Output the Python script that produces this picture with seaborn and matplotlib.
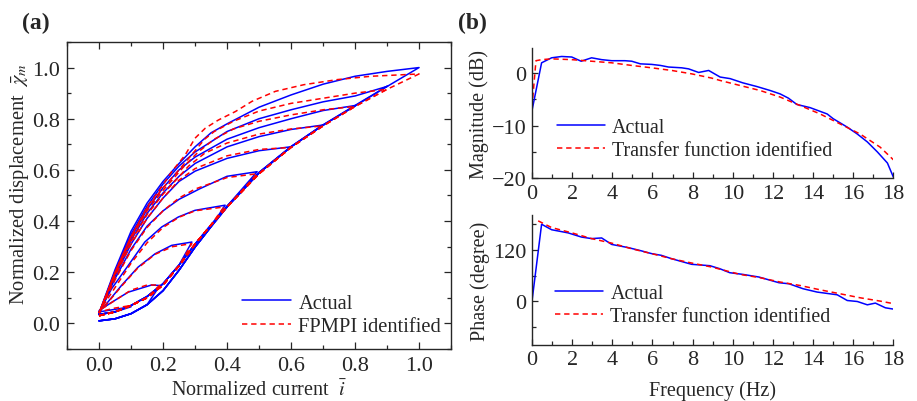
import numpy as np
import pandas as pd
import matplotlib
matplotlib.use("Agg")
import matplotlib.pyplot as plt
from matplotlib.ticker import MultipleLocator, FormatStrFormatter
from matplotlib.lines import Line2D
import seaborn as sns

sns.set_style("ticks")
plt.rcParams["font.family"] = ["Liberation Serif", "DejaVu Serif"]
plt.rcParams["mathtext.fontset"] = "stix"
plt.rcParams["font.size"] = 14

# ---------------- (a) hysteresis loops ----------------
# shared rising branch (x grid) for the measured loops
rise_x = [0.0, 0.05, 0.10, 0.15, 0.20, 0.25, 0.30, 0.35, 0.40, 0.50, 0.60, 0.70, 0.80, 0.90, 1.00]
rise_low = [0.010, 0.018, 0.038, 0.073, 0.128, 0.208, 0.298, 0.378, 0.455, 0.588, 0.690, 0.775, 0.850, 0.926, 1.000]
rise_high = [0.035, 0.045, 0.070, 0.105, 0.155, 0.228, 0.310, 0.385, 0.458, 0.590, 0.691, 0.776, 0.852, 0.927, 1.000]
# rising branch of the identified model
rise_fit = [0.030, 0.045, 0.070, 0.100, 0.150, 0.225, 0.310, 0.385, 0.455, 0.585, 0.688, 0.772, 0.848, 0.915, 0.975]

# falling branches (measured), each starting at its turning point
fall_10_x = [1.0, 0.9, 0.8, 0.7, 0.6, 0.5, 0.4, 0.35, 0.3, 0.25, 0.2, 0.15, 0.1, 0.05, 0.0]
fall_10_y = [1.0, 0.985, 0.966, 0.935, 0.893, 0.845, 0.78, 0.745, 0.69, 0.625, 0.555, 0.47, 0.36, 0.21, 0.04]
fall_09_x = [0.902, 0.8, 0.7, 0.6, 0.5, 0.4, 0.3, 0.25, 0.2, 0.15, 0.1, 0.05, 0.0]
fall_09_y = [0.927, 0.889, 0.866, 0.835, 0.80, 0.75, 0.67, 0.615, 0.545, 0.458, 0.348, 0.203, 0.04]
fall_08_x = [0.802, 0.7, 0.6, 0.5, 0.4, 0.3, 0.25, 0.2, 0.15, 0.1, 0.05, 0.0]
fall_08_y = [0.852, 0.832, 0.80, 0.765, 0.72, 0.65, 0.60, 0.53, 0.445, 0.335, 0.195, 0.04]
fall_07_x = [0.703, 0.6, 0.5, 0.4, 0.3, 0.25, 0.2, 0.15, 0.1, 0.05, 0.0]
fall_07_y = [0.776, 0.758, 0.73, 0.69, 0.625, 0.575, 0.51, 0.43, 0.325, 0.19, 0.04]
fall_06_x = [0.604, 0.5, 0.4, 0.3, 0.25, 0.2, 0.15, 0.1, 0.05, 0.0]
fall_06_y = [0.691, 0.675, 0.645, 0.595, 0.555, 0.49, 0.41, 0.31, 0.185, 0.04]
fall_05_x = [0.494, 0.4, 0.316, 0.25, 0.2, 0.15, 0.1, 0.05, 0.0]
fall_05_y = [0.593, 0.575, 0.527, 0.485, 0.44, 0.38, 0.29, 0.175, 0.04]
fall_04_x = [0.394, 0.3, 0.248, 0.196, 0.143, 0.091, 0.039, 0.0]
fall_04_y = [0.462, 0.442, 0.416, 0.377, 0.318, 0.226, 0.135, 0.043]
fall_03_x = [0.29, 0.227, 0.175, 0.122, 0.07, 0.018, 0.0]
fall_03_y = [0.318, 0.305, 0.272, 0.22, 0.148, 0.069, 0.045]
fall_02_x = [0.19, 0.164, 0.091, 0.039, 0.0]
fall_02_y = [0.148, 0.15, 0.122, 0.082, 0.05]
fall_01_x = [0.10, 0.05, 0.0]
fall_01_y = [0.065, 0.055, 0.045]

# falling branches (identified model)
fit_10_x = [1.0, 0.85, 0.745, 0.64, 0.551, 0.478, 0.426, 0.373, 0.332, 0.30, 0.269, 0.227, 0.185, 0.154, 0.10, 0.05, 0.0]
fit_10_y = [0.975, 0.966, 0.953, 0.933, 0.907, 0.868, 0.828, 0.795, 0.763, 0.724, 0.658, 0.593, 0.514, 0.462, 0.34, 0.20, 0.04]
fit_09_x = [0.9, 0.8, 0.7, 0.6, 0.5, 0.42, 0.36, 0.33, 0.29, 0.25, 0.2, 0.15, 0.1, 0.05, 0.0]
fit_09_y = [0.915, 0.90, 0.88, 0.86, 0.83, 0.79, 0.75, 0.72, 0.66, 0.60, 0.53, 0.45, 0.34, 0.20, 0.04]
fit_08_x = [0.8, 0.7, 0.6, 0.5, 0.42, 0.36, 0.31, 0.27, 0.2, 0.15, 0.1, 0.05, 0.0]
fit_08_y = [0.848, 0.835, 0.815, 0.79, 0.76, 0.72, 0.67, 0.62, 0.52, 0.44, 0.33, 0.195, 0.04]
fit_07_x = [0.7, 0.6, 0.5, 0.4, 0.33, 0.28, 0.2, 0.15, 0.1, 0.05, 0.0]
fit_07_y = [0.772, 0.76, 0.74, 0.705, 0.665, 0.615, 0.505, 0.425, 0.32, 0.19, 0.04]
fit_06_x = [0.6, 0.5, 0.4, 0.3, 0.25, 0.2, 0.15, 0.1, 0.05, 0.0]
fit_06_y = [0.688, 0.68, 0.655, 0.605, 0.56, 0.49, 0.41, 0.31, 0.185, 0.04]
fit_05_x = [0.494, 0.4, 0.3, 0.25, 0.2, 0.15, 0.1, 0.05, 0.0]
fit_05_y = [0.585, 0.57, 0.525, 0.49, 0.44, 0.375, 0.285, 0.17, 0.04]
fit_04_x = [0.39, 0.3, 0.25, 0.2, 0.15, 0.1, 0.05, 0.0]
fit_04_y = [0.455, 0.44, 0.415, 0.375, 0.315, 0.235, 0.14, 0.045]
fit_03_x = [0.29, 0.23, 0.175, 0.12, 0.07, 0.02, 0.0]
fit_03_y = [0.312, 0.30, 0.27, 0.215, 0.145, 0.07, 0.045]
fit_02_x = [0.19, 0.15, 0.1, 0.05, 0.0]
fit_02_y = [0.15, 0.15, 0.13, 0.09, 0.05]
fit_01_x = [0.10, 0.05, 0.0]
fit_01_y = [0.07, 0.06, 0.045]

# ---------------- (b) frequency response ----------------
mag_f = [0, 0.48, 0.98, 1.48, 1.98, 2.45, 2.97, 3.47, 3.97, 4.63, 4.97, 5.4, 5.96, 6.4, 6.8, 7.46, 7.8,
         8.3, 8.8, 9.37, 9.87, 10.5, 11.2, 11.86, 12.36, 12.77, 13.19, 13.85, 14.7, 15.0, 15.7, 16.2,
         16.7, 17.2, 17.7, 18.0]
mag_db = [-7.2, 1.9, 2.85, 3.1, 3.0, 2.2, 2.85, 2.5, 2.3, 2.3, 2.2, 1.7, 1.6, 1.4, 1.1, 0.95, 0.75,
          0.07, 0.45, -0.8, -1.1, -1.9, -2.6, -3.35, -4.0, -4.8, -6.0, -6.6, -7.8, -8.7, -10.3, -11.6,
          -13.1, -15.0, -17.1, -19.8]
mag_fit_f = [0, 0.2, 0.48, 0.98, 1.98, 2.97, 3.97, 4.97, 5.96, 6.96, 7.96, 8.95, 9.37, 10.36, 11.36,
             12.36, 13.35, 14.35, 15.35, 16.34, 17.34, 18.0]
mag_fit_db = [-6.5, 2.3, 2.5, 2.65, 2.5, 2.2, 1.9, 1.4, 0.95, 0.45, -0.2, -1.0, -1.45, -2.4, -3.35,
              -4.6, -6.2, -7.8, -9.7, -11.6, -14.1, -16.5]

ph_f = [0, 0.48, 0.98, 1.8, 2.47, 2.97, 3.47, 3.97, 4.8, 5.46, 5.96, 6.45, 6.95, 7.95, 8.86, 9.35,
        9.85, 10.5, 11.3, 12.3, 12.8, 13.5, 14.2, 15.2, 15.7, 16.2, 16.7, 17.1, 17.6, 18.0]
ph_deg = [0, 178.7, 166, 158.7, 149, 145.5, 147, 132, 124.6, 117, 110.7, 106.7, 99, 86, 82.8, 75.9,
          66.6, 62.7, 56.6, 43.4, 41, 29.5, 21.8, 15.5, 2.3, 0, -7.7, -3.7, -14.6, -17.6]
ph_fit_f = [0.31, 0.98, 1.97, 2.97, 3.97, 4.96, 5.96, 6.95, 7.95, 8.94, 10.36, 11.36, 12.36, 13.35,
            14.35, 15.35, 16.34, 17.34, 18.0]
ph_fit_deg = [186.5, 171, 159, 145.5, 135, 122, 110.7, 99, 89, 79.8, 62.7, 55, 45, 37, 27, 17.8,
              8.6, 0.9, -5]

BLUE = "#0000ff"
RED = "#ff0000"
DASH = (0, (3.5, 2.5))
LBL_ACT = "Actual"
LBL_FIT = "FPMPI identified"
LBL_TF = "Transfer function identified"
TICK_FS = 16
LABEL_FS = 14.5


def loop_frame(rise_y, fx, fy, kind, uid):
    """Rising part up to the turning point, followed by the falling branch."""
    px = fx[0]
    xs = [x for x in rise_x if x < px - 1e-9] + list(fx)
    ys = [y for x, y in zip(rise_x, rise_y) if x < px - 1e-9] + list(fy)
    return pd.DataFrame({"x": xs, "y": ys, "kind": kind, "loop": uid, "step": range(len(xs))})


measured = [(fall_01_x, fall_01_y), (fall_02_x, fall_02_y), (fall_03_x, fall_03_y),
            (fall_04_x, fall_04_y), (fall_05_x, fall_05_y), (fall_06_x, fall_06_y),
            (fall_07_x, fall_07_y), (fall_08_x, fall_08_y), (fall_09_x, fall_09_y),
            (fall_10_x, fall_10_y)]
fitted = [(fit_01_x, fit_01_y), (fit_02_x, fit_02_y), (fit_03_x, fit_03_y), (fit_04_x, fit_04_y),
          (fit_05_x, fit_05_y), (fit_06_x, fit_06_y), (fit_07_x, fit_07_y), (fit_08_x, fit_08_y),
          (fit_09_x, fit_09_y), (fit_10_x, fit_10_y)]

frames = []
for i, (fx, fy) in enumerate(measured):
    frames.append(loop_frame(rise_high if i % 2 == 0 else rise_low, fx, fy, LBL_ACT, f"a{i}"))
for i, (fx, fy) in enumerate(fitted):
    frames.append(loop_frame(rise_fit, fx, fy, LBL_FIT, f"f{i}"))
loops = pd.concat(frames, ignore_index=True)

fig = plt.figure(figsize=(9.17, 4.02), dpi=100)
ax_a = fig.add_axes([0.0731, 0.1294, 0.4188, 0.7637])
ax_m = fig.add_axes([0.5801, 0.554, 0.3942, 0.324])
ax_p = fig.add_axes([0.5801, 0.140, 0.3942, 0.3226])

sns.lineplot(data=loops, x="x", y="y", hue="kind", style="kind", units="loop",
             estimator=None, sort=False, palette={LBL_ACT: BLUE, LBL_FIT: RED},
             dashes={LBL_ACT: "", LBL_FIT: (3.5, 2.5)}, linewidth=1.1, legend=False, ax=ax_a)

ax_a.set_xlim(-0.1, 1.1)
ax_a.set_ylim(-0.1, 1.1)
ax_a.xaxis.set_major_locator(MultipleLocator(0.2))
ax_a.xaxis.set_minor_locator(MultipleLocator(0.1))
ax_a.yaxis.set_major_locator(MultipleLocator(0.2))
ax_a.yaxis.set_minor_locator(MultipleLocator(0.1))
ax_a.xaxis.set_major_formatter(FormatStrFormatter("%.1f"))
ax_a.yaxis.set_major_formatter(FormatStrFormatter("%.1f"))
ax_a.tick_params(which="both", direction="in", top=True, right=True, labelsize=TICK_FS, pad=5)
ax_a.tick_params(which="major", length=5, width=0.9)
ax_a.tick_params(which="minor", length=3, width=0.9)
for s in ax_a.spines.values():
    s.set_linewidth(1.0)
ax_a.set_xlabel(r"Normalized current  $\bar{i}$", fontsize=LABEL_FS, labelpad=3.5)
ax_a.set_ylabel(r"Normalized displacement  $\bar{\chi}_m$", fontsize=14.8)
ax_a.yaxis.set_label_coords(-0.094, 0.54)

h_act = Line2D([], [], color=BLUE, lw=1.1)
h_fit = Line2D([], [], color=RED, lw=1.1, ls=DASH)
ax_a.legend([h_act, h_fit], [LBL_ACT, LBL_FIT], loc="center left", bbox_to_anchor=(0.455, 0.112),
            frameon=False, fontsize=14.8, handlelength=2.4, handletextpad=0.35, labelspacing=0.2,
            borderpad=0, borderaxespad=0)

# magnitude
sns.lineplot(x=mag_f, y=mag_db, color=BLUE, linewidth=1.1, sort=False, estimator=None, ax=ax_m)
sns.lineplot(x=mag_fit_f, y=mag_fit_db, color=RED, linewidth=1.1, sort=False, estimator=None,
             ax=ax_m, dashes=False, linestyle=DASH)
ax_m.set_xlim(0, 18)
ax_m.set_ylim(-20, 4.7)
ax_m.yaxis.set_major_locator(MultipleLocator(10))
ax_m.yaxis.set_minor_locator(MultipleLocator(5))
ax_m.set_ylabel("Magnitude (dB)", fontsize=LABEL_FS, labelpad=2)
ax_m.legend([h_act, h_fit], [LBL_ACT, LBL_TF],
            loc="center left", bbox_to_anchor=(0.07, 0.30), frameon=False, fontsize=14.4,
            handlelength=2.4, handletextpad=0.35, labelspacing=0.2, borderpad=0, borderaxespad=0)

# phase
sns.lineplot(x=ph_f, y=ph_deg, color=BLUE, linewidth=1.1, sort=False, estimator=None, ax=ax_p)
sns.lineplot(x=ph_fit_f, y=ph_fit_deg, color=RED, linewidth=1.1, sort=False, estimator=None,
             ax=ax_p, dashes=False, linestyle=DASH)
ax_p.set_xlim(0, 18)
ax_p.set_ylim(-100, 200)
ax_p.yaxis.set_major_locator(MultipleLocator(120))
ax_p.yaxis.set_minor_locator(MultipleLocator(60))
ax_p.set_ylabel("Phase (degree)", fontsize=LABEL_FS, labelpad=2)
ax_p.set_xlabel("Frequency (Hz)", fontsize=LABEL_FS, labelpad=8)
ax_p.legend([h_act, h_fit], [LBL_ACT, LBL_TF],
            loc="center left", bbox_to_anchor=(0.065, 0.31), frameon=False, fontsize=14.4,
            handlelength=2.4, handletextpad=0.35, labelspacing=0.2, borderpad=0, borderaxespad=0)

for ax in (ax_m, ax_p):
    sns.despine(ax=ax)
    ax.xaxis.set_major_locator(MultipleLocator(2))
    ax.xaxis.set_minor_locator(MultipleLocator(1))
    ax.tick_params(which="both", direction="in", labelsize=TICK_FS, pad=4)
    ax.tick_params(which="major", length=4, width=0.9)
    ax.tick_params(which="minor", length=3, width=0.9)
    ax.spines["left"].set_linewidth(1.0)
    ax.spines["bottom"].set_linewidth(1.0)

fig.text(0.024, 0.968, "(a)", fontsize=17, fontweight="bold", va="top")
fig.text(0.4995, 0.968, "(b)", fontsize=17, fontweight="bold", va="top")

fig.savefig("out.png", dpi=100)
